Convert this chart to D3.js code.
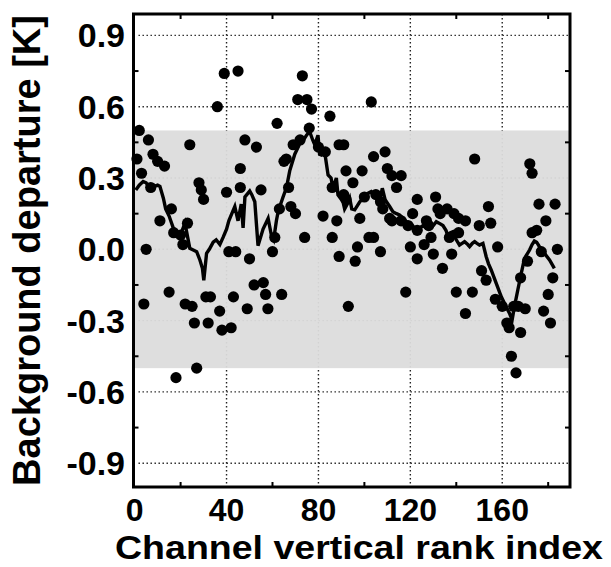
<!DOCTYPE html>
<html>
<head>
<meta charset="utf-8">
<script src="https://cdn.jsdelivr.net/npm/d3@7/dist/d3.min.js"></script>
<style>
  html, body { margin: 0; padding: 0; background: #fff; }
  svg { display: block; }
  text { font-family: "Liberation Sans", Arial, Helvetica, sans-serif; font-weight: bold; fill: #000; }
</style>
</head>
<body>
<svg id="chart" width="611" height="567"></svg>
<script>
// ---- data ----
const dotChannel = [1,2,3,4,5,6,7,8,10,11,13,15,16,17,18,20,21,22,23,24,25,26,27,28,29,30,31,32,33,36,37,38,39,40,41,42,43,44,45,46,46,48,49,50,52,53,55,56,57,58,60,61,62,63,64,65,66,67,68,69,70,71,72,73,74,75,76,77,80,82,83,85,86,86,88,89,89,91,91,92,92,93,95,96,97,98,99,100,102,103,104,104,105,107,107,108,109,110,111,112,112,114,116,116,118,119,120,121,123,123,123,126,127,128,129,130,131,132,133,134,136,137,138,139,140,141,141,144,144,147,148,150,151,153,154,155,157,158,160,162,163,164,165,166,167,168,168,170,171,172,173,173,175,176,177,178,179,180,181,182,183,184];
const dotValue = [0.38,0.50,0.32,-0.23,0.00,0.46,0.26,0.40,0.37,0.12,0.35,-0.18,0.17,0.07,-0.54,0.06,0.02,-0.23,0.11,0.44,-0.24,-0.31,-0.50,0.28,0.25,0.21,-0.20,-0.31,-0.20,0.60,-0.26,-0.34,0.74,0.24,-0.01,-0.33,-0.20,-0.01,0.75,0.26,0.34,0.46,-0.25,-0.04,-0.15,0.43,0.25,-0.14,-0.19,-0.25,-0.01,0.05,0.53,0.17,-0.19,0.37,0.38,0.26,0.18,0.44,0.15,0.63,0.46,0.73,0.05,0.63,0.51,0.59,0.43,0.14,0.41,0.56,0.05,0.26,0.12,-0.03,0.44,0.23,0.44,0.33,0.21,-0.24,0.28,-0.05,0.01,0.13,0.33,0.22,0.05,0.62,0.39,0.05,0.23,-0.01,0.20,0.17,0.41,0.34,0.13,0.31,0.12,0.26,0.31,0.12,-0.18,0.10,0.01,0.15,0.08,-0.04,0.21,0.02,0.12,0.10,0.05,-0.02,0.22,0.17,0.15,-0.08,0.17,0.05,-0.02,0.15,-0.18,0.13,0.07,-0.27,0.12,-0.18,0.38,0.10,-0.09,-0.13,0.18,0.11,-0.21,0.01,-0.24,-0.31,-0.33,-0.45,-0.24,-0.52,-0.24,-0.12,-0.35,-0.25,-0.05,0.36,0.32,0.07,0.08,0.19,-0.01,-0.26,0.12,-0.19,-0.31,-0.12,0.19,0.00];

const lineChannel = [0.5,2,3.7,5,6.5,8.5,10,11,12.5,13.5,15,16.8,19.7,21.9,23.3,24,25.5,27,28.4,29.5,30.1,31.3,32.5,34.2,35.5,37.1,38.5,40,41,42.2,43.6,45,46.4,47.2,48,50.1,51,52.3,53.7,55.9,58.1,59.6,60.5,61.7,62.5,64.6,66.1,67.5,69.7,71.9,72.6,74.8,76.2,77.5,78.4,79.8,80.5,81.3,82.7,84.2,85.5,86.3,87.8,88.5,90.7,91.4,92.5,93.6,94.5,95.8,98,100.1,101.5,103,104.5,105.9,107,107.8,109,109.6,111,112.4,114,115.3,117,118.3,120,121,122.6,124,125.5,127,128.4,130,131.3,132.5,134.2,135.5,136.3,137.5,138.5,140,141.4,142.5,143.6,145,145.8,147,148,149,150.1,151.6,153,154,155.2,157.4,159.6,161.7,163.2,164.3,165.3,166.8,168.3,169.7,171.9,173,174,175,176.2,178.4,180.6,182.7];
const lineValue = [0.25,0.27,0.285,0.28,0.257,0.265,0.27,0.265,0.215,0.17,0.14,0.09,0.055,0.11,0.04,0.004,-0.003,-0.01,-0.045,-0.08,-0.13,-0.017,0.0,0.03,0.04,0.02,0.05,0.085,0.12,0.148,0.18,0.12,0.19,0.09,0.22,0.245,0.23,0.2,0.015,0.085,0.13,0.055,0.04,0.12,0.16,0.22,0.26,0.33,0.4,0.445,0.447,0.48,0.495,0.46,0.44,0.48,0.40,0.397,0.41,0.313,0.3,0.257,0.3,0.229,0.2,0.17,0.19,0.215,0.17,0.166,0.2,0.22,0.235,0.243,0.23,0.2,0.22,0.257,0.21,0.2,0.18,0.158,0.15,0.145,0.13,0.116,0.11,0.1,0.074,0.09,0.1,0.09,0.088,0.1,0.116,0.11,0.1,0.08,0.06,0.07,0.074,0.04,0.018,0.025,0.032,0.02,0.011,0.025,0.032,0.025,0.018,0.025,-0.03,-0.06,-0.087,-0.143,-0.2,-0.242,-0.27,-0.298,-0.242,-0.17,-0.1,-0.038,-0.003,0.02,0.035,0.03,0.011,-0.017,-0.045,-0.08];

const xTickLabels = [0, 40, 80, 120, 160];
const xMinorTicks = [20, 60, 100, 140, 180];
const yTickLabels = [-0.9, -0.6, -0.3, 0.0, 0.3, 0.6, 0.9];
const yMinorTicks = [-0.75, -0.45, -0.15, 0.15, 0.45, 0.75];
const bandRange = [-0.5, 0.5];
const xTitle = "Channel vertical rank index";
const yTitle = "Background departure [K]";

// ---- layout ----
const L = 133.5, R = 570, T = 14, B = 487;
const svg = d3.select("#chart");
const x = d3.scaleLinear().domain([-0.5, 189.5]).range([L, R]);
const y = d3.scaleLinear().domain([-1.0, 0.99]).range([B, T]);
const fmt = v => (v < 0 ? "-" : "") + Math.abs(v).toFixed(1);

// grid
const grid = svg.append("g").attr("stroke", "#222").attr("stroke-width", 1.4).attr("stroke-dasharray", "1.4,2.6");
grid.selectAll(".gx").data(xTickLabels.filter(d => d > 0)).join("line")
  .attr("x1", d => x(d)).attr("x2", d => x(d)).attr("y1", T).attr("y2", B);
grid.selectAll(".gy").data(yTickLabels).join("line")
  .attr("x1", L + 5).attr("x2", R).attr("y1", d => y(d)).attr("y2", d => y(d));

// band
svg.append("rect")
  .attr("x", L).attr("width", R - L)
  .attr("y", y(bandRange[1])).attr("height", y(bandRange[0]) - y(bandRange[1]))
  .attr("fill", "#dcdcdc").attr("fill-opacity", 0.95);

// line
svg.append("path")
  .datum(lineChannel.map((c, i) => [c, lineValue[i]]))
  .attr("fill", "none").attr("stroke", "#000").attr("stroke-width", 3.4).attr("stroke-linejoin", "miter")
  .attr("d", d3.line().x(d => x(d[0])).y(d => y(d[1])));

// dots
svg.append("g").selectAll("circle").data(dotChannel.map((c, i) => [c, dotValue[i]])).join("circle")
  .attr("cx", d => x(d[0])).attr("cy", d => y(d[1])).attr("r", 5.6).attr("fill", "#000");

// minor ticks
const tk = svg.append("g").attr("stroke", "#000").attr("stroke-width", 2);
xMinorTicks.forEach(v => {
  tk.append("line").attr("x1", x(v)).attr("x2", x(v)).attr("y1", B).attr("y2", B - 5);
  tk.append("line").attr("x1", x(v)).attr("x2", x(v)).attr("y1", T).attr("y2", T + 5);
});
yMinorTicks.forEach(v => {
  tk.append("line").attr("x1", L).attr("x2", L + 5).attr("y1", y(v)).attr("y2", y(v));
  tk.append("line").attr("x1", R).attr("x2", R - 5).attr("y1", y(v)).attr("y2", y(v));
});

// frame
svg.append("rect").attr("x", L).attr("y", T).attr("width", R - L).attr("height", B - T)
  .attr("fill", "none").attr("stroke", "#000").attr("stroke-width", 3);

// tick labels
svg.append("g").selectAll("text").data(xTickLabels).join("text")
  .attr("x", d => x(d)).attr("y", 521).attr("text-anchor", "middle")
  .style("font-size", "32px").text(d => d);
svg.append("g").selectAll("text").data(yTickLabels).join("text")
  .attr("x", 125).attr("y", d => y(d) + 12).attr("text-anchor", "end")
  .style("font-size", "34px").text(fmt);

// titles
svg.append("text").attr("x", 359).attr("y", 559).attr("text-anchor", "middle")
  .attr("textLength", 488).attr("lengthAdjust", "spacingAndGlyphs")
  .style("font-size", "34px").text(xTitle);
svg.append("text").attr("transform", "translate(40," + ((T + B) / 2) + ") rotate(-90)")
  .attr("text-anchor", "middle").style("font-size", "38px").text(yTitle);
</script>
</body>
</html>
